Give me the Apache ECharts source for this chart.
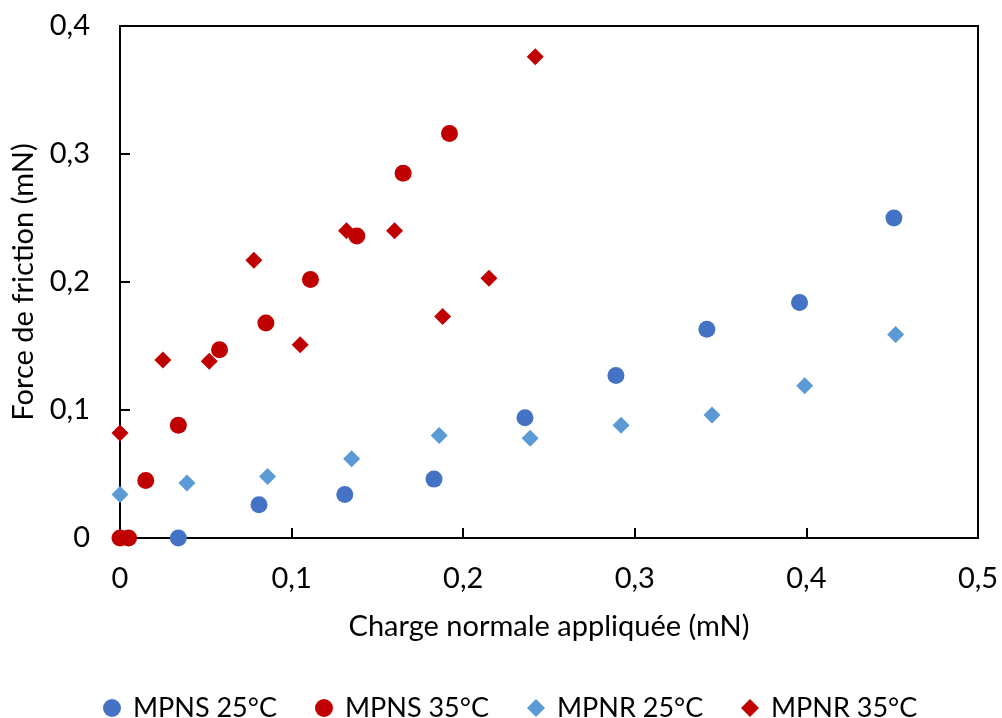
<!DOCTYPE html>
<html>
<head>
<meta charset="utf-8">
<script src="https://cdn.jsdelivr.net/npm/echarts@6/dist/echarts.min.js"></script>
<style>
html,body{margin:0;padding:0;background:#fff;}
#chart{width:1002px;height:718px;}
</style>
</head>
<body>
<div id="chart"></div>
<script>
// Series names
const seriesNames = ['MPNS 25°C', 'MPNS 35°C', 'MPNR 25°C', 'MPNR 35°C'];

// MPNS 25°C
const mpns25X = [0.034, 0.081, 0.131, 0.183, 0.236, 0.289, 0.342, 0.396, 0.451];
const mpns25Y = [0.000, 0.026, 0.034, 0.046, 0.094, 0.127, 0.163, 0.184, 0.250];

// MPNS 35°C
const mpns35X = [0.000, 0.005, 0.015, 0.034, 0.058, 0.085, 0.111, 0.138, 0.165, 0.192];
const mpns35Y = [0.000, 0.000, 0.045, 0.088, 0.147, 0.168, 0.202, 0.236, 0.285, 0.316];

// MPNR 25°C
const mpnr25X = [0.000, 0.039, 0.086, 0.135, 0.186, 0.239, 0.292, 0.345, 0.399, 0.452];
const mpnr25Y = [0.034, 0.043, 0.048, 0.062, 0.080, 0.078, 0.088, 0.096, 0.119, 0.159];

// MPNR 35°C
const mpnr35X = [0.000, 0.025, 0.052, 0.078, 0.105, 0.132, 0.160, 0.188, 0.215, 0.242];
const mpnr35Y = [0.082, 0.139, 0.138, 0.217, 0.151, 0.240, 0.240, 0.173, 0.203, 0.376];

// Axis labels
const xTitle = 'Charge normale appliquée (mN)';
const yTitle = 'Force de friction (mN)';

function zip(xs, ys) { return xs.map((x, i) => [x, ys[i]]); }

const FONT = 'Lato';
const FS = 29;
const colors = ['#4472C4', '#C00000', '#5B9BD5', '#C00000'];
const symbols = ['circle', 'circle', 'diamond', 'diamond'];
const legendLefts = [98, 310, 522, 736];
const dataSets = [zip(mpns25X, mpns25Y), zip(mpns35X, mpns35Y), zip(mpnr25X, mpnr25Y), zip(mpnr35X, mpnr35Y)];

const fmt = v => (v === 0 ? '0' : String(Math.round(v * 10) / 10).replace('.', ','));

const chart = echarts.init(document.getElementById('chart'), null, { renderer: 'canvas' });
chart.setOption({
  animation: false,
  backgroundColor: '#fff',
  textStyle: { fontFamily: FONT },
  grid: { left: 120, right: 24, top: 26, bottom: 180, show: true, borderColor: '#000', borderWidth: 2, backgroundColor: 'transparent' },
  legend: seriesNames.map((n, i) => ({
    data: [{ name: n, icon: symbols[i] }],
    left: legendLefts[i], top: 688,
    itemWidth: 18, itemHeight: 18, itemGap: 0,
    textStyle: { fontFamily: FONT, fontSize: 27, color: '#000', padding: [0, 0, 0, 7], lineHeight: 30 }
  })),
  xAxis: {
    type: 'value', min: 0, max: 0.5, interval: 0.1,
    name: xTitle, nameLocation: 'middle', nameGap: 74,
    nameTextStyle: { fontFamily: FONT, fontSize: FS, color: '#000' },
    axisLine: { show: true, onZero: false, lineStyle: { color: '#000', width: 2 } },
    axisTick: { show: true, inside: true, length: 10, lineStyle: { color: '#000', width: 2 } },
    axisLabel: { fontFamily: FONT, fontSize: FS, color: '#000', margin: 26, formatter: fmt },
    splitLine: { show: false }
  },
  yAxis: {
    type: 'value', min: 0, max: 0.4, interval: 0.1,
    name: yTitle, nameLocation: 'middle', nameGap: 82, nameRotate: 90,
    nameTextStyle: { fontFamily: FONT, fontSize: FS, color: '#000' },
    axisLine: { show: true, onZero: false, lineStyle: { color: '#000', width: 2 } },
    axisTick: { show: true, inside: true, length: 10, lineStyle: { color: '#000', width: 2 } },
    axisLabel: { fontFamily: FONT, fontSize: FS, color: '#000', margin: 30, formatter: fmt },
    splitLine: { show: false }
  },
  series: seriesNames.map((n, i) => ({
    name: n, type: 'scatter', symbol: symbols[i], symbolSize: 17,
    clip: false,
    z: symbols[i] === 'circle' ? 4 : 3,
    itemStyle: { color: colors[i], opacity: 1 },
    data: dataSets[i]
  }))
});
</script>
</body>
</html>
